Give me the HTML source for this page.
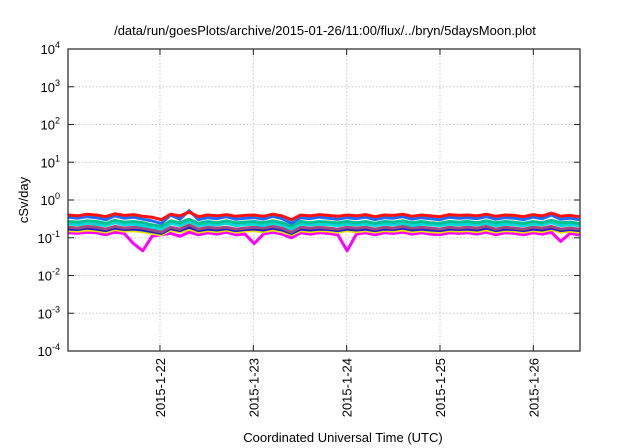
<!DOCTYPE html>
<html><head><meta charset="utf-8"><style>
html,body{margin:0;padding:0;background:#fff;}
svg{display:block;font-family:"Liberation Sans",sans-serif;}
</style></head><body>
<svg id="chart" width="640" height="448" viewBox="0 0 640 448">
<text x="325" y="35" text-anchor="middle" font-size="13">/data/run/goesPlots/archive/2015-01-26/11:00/flux/../bryn/5daysMoon.plot</text>
<text x="343" y="442" text-anchor="middle" font-size="13">Coordinated Universal Time (UTC)</text>
<text transform="translate(28,200) rotate(-90)" text-anchor="middle" font-size="13">cSv/day</text>
<g id="grid"></g><g id="series"></g><g id="axes"></g>
</svg>
<script>
const yTickExps=[4,3,2,1,0,-1,-2,-3,-4];
const xTickDays=[22,23,24,25,26];
const xTickLabels=["2015-1-22","2015-1-23","2015-1-24","2015-1-25","2015-1-26"];
const seriesNames=["magenta","yellow","darkblue","purple","cyan","teal","blue","red"];
const seriesColors=["#ff00ff","#f0e000","#2020c8","#a04880","#00d8d8","#00c090","#1e6cff","#ff1010"];
const tStart=21.02, tStep=0.0995;
const red=[0.40,0.38,0.42,0.40,0.36,0.43,0.39,0.41,0.37,0.35,0.30,0.42,0.38,0.48,0.36,0.40,0.38,0.41,0.37,0.39,0.40,0.37,0.42,0.38,0.30,0.40,0.38,0.41,0.39,0.37,0.40,0.38,0.41,0.36,0.40,0.39,0.42,0.37,0.40,0.38,0.36,0.41,0.39,0.40,0.38,0.42,0.37,0.40,0.39,0.36,0.41,0.38,0.45,0.37,0.39,0.36];
const blue=[0.35,0.33,0.36,0.34,0.30,0.38,0.33,0.35,0.31,0.28,0.24,0.40,0.31,0.52,0.30,0.34,0.32,0.36,0.31,0.33,0.34,0.31,0.37,0.32,0.24,0.34,0.32,0.35,0.33,0.31,0.34,0.32,0.35,0.30,0.34,0.33,0.36,0.31,0.34,0.32,0.30,0.35,0.33,0.34,0.32,0.36,0.31,0.34,0.33,0.30,0.35,0.32,0.40,0.31,0.33,0.30];
const teal=[0.27,0.26,0.28,0.27,0.24,0.29,0.26,0.27,0.25,0.22,0.20,0.28,0.25,0.31,0.24,0.27,0.25,0.28,0.25,0.26,0.27,0.25,0.28,0.25,0.20,0.27,0.25,0.27,0.26,0.25,0.27,0.25,0.27,0.24,0.27,0.26,0.28,0.25,0.27,0.25,0.24,0.27,0.26,0.27,0.25,0.28,0.25,0.27,0.26,0.24,0.27,0.25,0.29,0.25,0.26,0.24];
const cyan=[0.23,0.22,0.24,0.23,0.21,0.25,0.22,0.23,0.21,0.19,0.17,0.24,0.21,0.27,0.21,0.23,0.22,0.24,0.21,0.22,0.23,0.21,0.24,0.22,0.17,0.23,0.22,0.23,0.22,0.21,0.23,0.22,0.23,0.21,0.23,0.22,0.24,0.21,0.23,0.22,0.21,0.23,0.22,0.23,0.22,0.24,0.21,0.23,0.22,0.21,0.23,0.22,0.25,0.21,0.22,0.21];
const purple=[0.19,0.18,0.20,0.19,0.17,0.20,0.18,0.19,0.18,0.16,0.14,0.19,0.17,0.22,0.17,0.19,0.18,0.19,0.17,0.18,0.19,0.18,0.20,0.18,0.14,0.19,0.18,0.19,0.18,0.17,0.19,0.18,0.19,0.17,0.19,0.18,0.20,0.18,0.19,0.18,0.17,0.19,0.18,0.19,0.18,0.20,0.17,0.19,0.18,0.17,0.19,0.18,0.20,0.17,0.18,0.17];
const darkblue=[0.17,0.165,0.18,0.17,0.155,0.18,0.165,0.17,0.16,0.145,0.13,0.175,0.155,0.19,0.155,0.17,0.16,0.175,0.155,0.165,0.17,0.16,0.18,0.16,0.13,0.17,0.16,0.17,0.165,0.155,0.17,0.16,0.17,0.155,0.17,0.165,0.18,0.16,0.17,0.16,0.155,0.17,0.165,0.17,0.16,0.18,0.155,0.17,0.165,0.155,0.17,0.16,0.18,0.155,0.165,0.155];
const yellow=[0.155,0.15,0.16,0.155,0.14,0.165,0.15,0.155,0.145,0.13,0.12,0.16,0.14,0.17,0.14,0.155,0.145,0.16,0.14,0.15,0.155,0.145,0.16,0.145,0.12,0.155,0.145,0.155,0.15,0.14,0.155,0.145,0.155,0.14,0.155,0.15,0.16,0.145,0.155,0.145,0.14,0.155,0.15,0.155,0.145,0.16,0.14,0.155,0.15,0.14,0.155,0.145,0.165,0.14,0.15,0.14];
const magenta=[0.135,0.13,0.14,0.135,0.12,0.14,0.13,0.07,0.045,0.11,0.12,0.13,0.11,0.14,0.12,0.135,0.125,0.14,0.12,0.125,0.07,0.125,0.14,0.125,0.10,0.135,0.125,0.135,0.13,0.12,0.045,0.125,0.135,0.12,0.135,0.13,0.14,0.125,0.135,0.125,0.12,0.135,0.13,0.135,0.125,0.14,0.12,0.135,0.13,0.12,0.135,0.125,0.14,0.08,0.13,0.12];
const seriesData=[magenta,yellow,darkblue,purple,cyan,teal,blue,red];
const L=68,R=580,T=49,B=351;
const xScale=d=>L+(d-21.0146)*(R-L)/(26.5-21.0146);
const yScale=v=>T+(4-Math.log10(v))*(B-T)/8;
const NS="http://www.w3.org/2000/svg";
function mk(tag,parent){const e=document.createElementNS(NS,tag);parent.appendChild(e);return e;}
const grid=document.getElementById('grid'),axes=document.getElementById('axes'),ser=document.getElementById('series');
yTickExps.forEach(e=>{
  const y=yScale(Math.pow(10,e));
  if(e<4&&e>-4){const g=mk('line',grid);
    
    
    g.setAttribute('x1',L);g.setAttribute('x2',R);g.setAttribute('y1',y);g.setAttribute('y2',y);
    g.setAttribute('stroke','#c8c8c8');g.setAttribute('stroke-dasharray','1.5,2');}
  const tk=mk('path',axes);
  
  
  tk.setAttribute('d',`M${L} ${y}h6M${R} ${y}h-6`);tk.setAttribute('stroke','#222');
  const t=mk('text',axes);
  
  
  t.setAttribute('x',L-8);t.setAttribute('y',y+5);t.setAttribute('text-anchor','end');t.setAttribute('font-size','13');
  t.innerHTML=`10<tspan dy="-6" font-size="9">${e}</tspan>`;
});
xTickDays.forEach((d,i)=>{
  const x=xScale(d);
  const g=mk('line',grid);
  
  
  g.setAttribute('x1',x);g.setAttribute('x2',x);g.setAttribute('y1',T);g.setAttribute('y2',B);
  g.setAttribute('stroke','#c8c8c8');g.setAttribute('stroke-dasharray','1.5,2');
  const tk=mk('path',axes);
  
  
  tk.setAttribute('d',`M${x} ${B}v-6M${x} ${T}v6`);tk.setAttribute('stroke','#222');
  const t=mk('text',axes);
  
  
  t.setAttribute('transform',`translate(${x+5},358) rotate(-90)`);t.setAttribute('text-anchor','end');t.setAttribute('font-size','13');
  t.textContent=xTickLabels[i];
});
seriesData.forEach((arr,si)=>{
  const p=mk('polyline',ser);
  
  
  p.setAttribute('points',arr.map((v,i)=>xScale(tStart+i*tStep).toFixed(1)+','+yScale(v).toFixed(1)).join(' '));
  p.setAttribute('fill','none');p.setAttribute('stroke',seriesColors[si]);p.setAttribute('stroke-width','3');p.setAttribute('stroke-linejoin','round');
});
const fr=mk('rect',axes);


fr.setAttribute('x',L);fr.setAttribute('y',T);fr.setAttribute('width',R-L);fr.setAttribute('height',B-T);
fr.setAttribute('fill','none');fr.setAttribute('stroke','#222');fr.setAttribute('stroke-width','1.2');
</script>
</body></html>
